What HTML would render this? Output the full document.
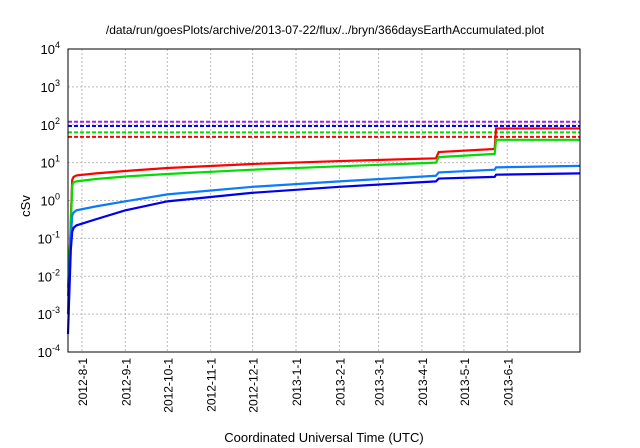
<!DOCTYPE html>
<html><head><meta charset="utf-8"><style>
body{margin:0;background:#fff}
svg{display:block;font-family:"Liberation Sans",sans-serif}
</style></head><body>
<svg id="c" width="640" height="448"></svg>
<script>
const tickMonths=["2012-8-1","2012-9-1","2012-10-1","2012-11-1","2012-12-1","2013-1-1","2013-2-1","2013-3-1","2013-4-1","2013-5-1","2013-6-1"];
const tickDays=[10,41,71,102,132,163,194,222,253,283,314];
const yExps=[-4,-3,-2,-1,0,1,2,3,4];
const thresholds=[120,93,63,48];
const thresholdColors=["#a020f0","#0000ff","#00dd00","#ff0000"];
const days=[0,2,3,4,6,20,41,71,132,194,263,265,305,306,366];
const redVals=[0.001,0.3,3.5,4.2,4.6,5.2,6,7.2,9.2,11,13,19,23,80,80];
const greenVals=[0.005,0.2,2.5,3,3.2,3.7,4.3,5,6.5,8,10,14,17,40,40];
const lightBlueVals=[0.003,0.1,0.4,0.48,0.55,0.7,0.95,1.45,2.3,3.2,4.5,5.5,6.5,7.5,8.2];
const darkBlueVals=[0.0003,0.05,0.15,0.19,0.22,0.32,0.55,0.95,1.6,2.3,3.2,3.8,4.2,4.8,5.2];
const L=68,R=580,T=49,B=352,NDAYS=366;
const xs=d=>L+d*(R-L)/NDAYS;
const ys=v=>T+(4-Math.log10(v))*(B-T)/8;
const svg=document.getElementById('c');const NS="http://www.w3.org/2000/svg";
function mk(t,a,p){const e=document.createElementNS(NS,t);for(const k in a)e.setAttribute(k,a[k]);(p||svg).appendChild(e);return e;}
let e;
yExps.forEach(ex=>{const y=ys(Math.pow(10,ex));
 if(ex>-4&&ex<4){e=mk('line',{x1:L,x2:R,y1:y,y2:y,stroke:'#bbb','stroke-dasharray':'2,2'});
 
 }
 e=mk('text',{x:L-8,y:y+5,'text-anchor':'end','font-size':13,fill:'#000'});
 
 
 e.textContent='10';const s=mk('tspan',{dy:-6,'font-size':9},e);s.textContent=ex;
});
tickDays.forEach((d,i)=>{const x=xs(d);
 e=mk('line',{x1:x,x2:x,y1:T,y2:B,stroke:'#bbb','stroke-dasharray':'2,2'});
 
 
 e=mk('text',{x:0,y:0,transform:`translate(${x+5},${B+6}) rotate(-90)`,'text-anchor':'end','font-size':12});
 
 
 e.textContent=tickMonths[i];
});
thresholds.forEach((v,i)=>{e=mk('line',{x1:L,x2:R,y1:ys(v),y2:ys(v),stroke:thresholdColors[i],'stroke-width':2,'stroke-dasharray':'4,2'});
 
 });
[[redVals,'#ff0000','red-series'],[greenVals,'#00dd00','green-series'],[lightBlueVals,'#0a7aff','light-blue-series'],[darkBlueVals,'#0000ee','dark-blue-series']].forEach(([vals,c,n])=>{
 e=mk('polyline',{points:days.map((d,i)=>xs(d)+','+ys(vals[i])).join(' '),fill:'none',stroke:c,'stroke-width':2.2});
 
 
});
e=mk('rect',{x:L,y:T,width:R-L,height:B-T,fill:'none',stroke:'#000','stroke-width':1});


e=mk('text',{x:325,y:34,'text-anchor':'middle','font-size':12});


e.textContent='/data/run/goesPlots/archive/2013-07-22/flux/../bryn/366daysEarthAccumulated.plot';
e=mk('text',{x:0,y:0,transform:'translate(30,206) rotate(-90)','text-anchor':'middle','font-size':13});


e.textContent='cSv';
e=mk('text',{x:324,y:442,'text-anchor':'middle','font-size':13});


e.textContent='Coordinated Universal Time (UTC)';
</script>
</body></html>
